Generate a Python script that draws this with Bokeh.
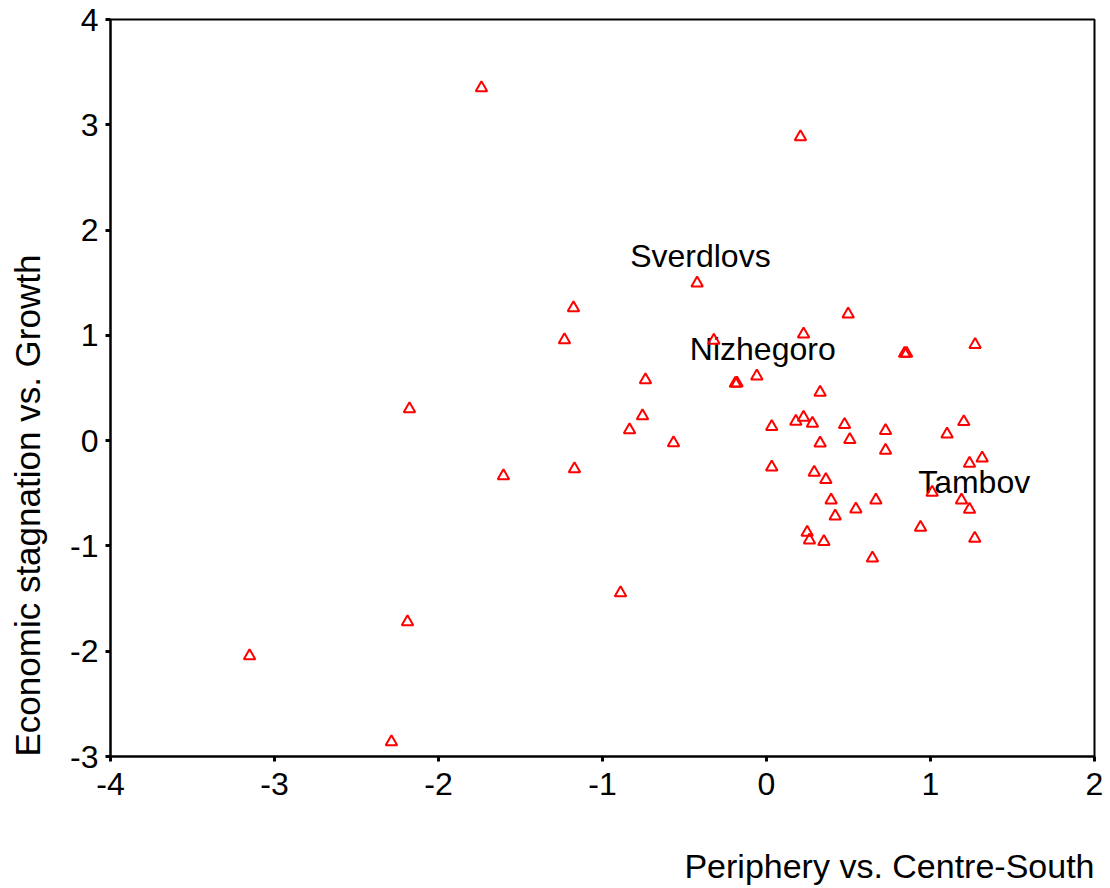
from bokeh.plotting import figure
from bokeh.models import Title, Range1d, FixedTicker, ColumnDataSource
from bokeh.embed import file_html
from bokeh.resources import INLINE
from bokeh.core.properties import value

# Periphery vs. Centre-South (x) and Economic stagnation vs. Growth (y)
x_vals = [-1.738, 0.207, -0.423, -1.177, -1.232, -0.321, 0.226, 0.498, 0.842, 0.854,
          1.272, -0.738, -0.190, -0.180, -0.059, 0.327, -2.177, -0.756, -0.835, -0.567,
          -1.171, -1.604, 0.032, 0.179, 0.226, 0.280, 0.476, 0.726, 0.508, 0.327,
          0.726, 0.032, 0.291, 0.362, 0.394, 0.667, 0.545, 0.419, 0.248, 0.262,
          0.350, 0.646, 1.203, 1.101, 1.238, 1.315, 1.010, 1.189, 1.238, 0.939,
          1.270, -0.890, -2.189, -3.152, -2.287]
y_vals = [3.350, 2.884, 1.496, 1.260, 0.956, 0.952, 1.011, 1.201, 0.828, 0.828,
          0.911, 0.576, 0.543, 0.545, 0.613, 0.458, 0.301, 0.235, 0.102, -0.022,
          -0.269, -0.335, 0.132, 0.182, 0.220, 0.163, 0.151, 0.094, 0.009, -0.024,
          -0.093, -0.252, -0.302, -0.371, -0.565, -0.565, -0.650, -0.717, -0.872, -0.945,
          -0.960, -1.116, 0.179, 0.062, -0.217, -0.166, -0.492, -0.565, -0.653, -0.824,
          -0.929, -1.446, -1.722, -2.045, -2.861]

label_names = ["Sverdlovs", "Nizhegoro", "Tambov"]
label_index = [2, 5, 46]
label_dx = [-67, -24, -14]
label_dy = [-27, 9, -10]

x_ticks = [-4, -3, -2, -1, 0, 1, 2]
y_ticks = [-3, -2, -1, 0, 1, 2, 3, 4]

x_title = "Periphery vs. Centre-South"
y_title = "Economic stagnation vs. Growth"

FONT = "Liberation Sans"

p = figure(frame_width=984, frame_height=737, output_backend="svg", toolbar_location=None,
           x_range=Range1d(-4, 2), y_range=Range1d(-3, 4),
           min_border_left=110, min_border_right=14, min_border_top=19,
           min_border_bottom=100, background_fill_color="white",
           border_fill_color="white")
# the left title panel is wider than the reference margin; pull the canvas left
p.styles = {"margin-left": "-16px"}

p.outline_line_color = "black"
p.outline_line_width = 2
p.grid.visible = False

for ax in (p.xaxis[0], p.yaxis[0]):
    ax.axis_line_color = "black"
    ax.axis_line_width = 2
    ax.major_tick_in = 0
    ax.major_tick_out = 5
    ax.major_tick_line_width = 3
    ax.major_tick_line_color = "black"
    ax.minor_tick_line_color = None
    ax.major_label_text_font = FONT
    ax.major_label_text_font_size = "32px"
    ax.major_label_text_color = "black"

p.xaxis[0].ticker = FixedTicker(ticks=x_ticks)
p.yaxis[0].ticker = FixedTicker(ticks=y_ticks)
p.xaxis[0].major_label_overrides = {t: str(t) for t in x_ticks}
p.yaxis[0].major_label_overrides = {t: str(t) for t in y_ticks}
p.xaxis[0].major_label_standoff = 11
p.yaxis[0].major_label_standoff = 7

p.add_layout(Title(text=x_title, align="right", text_font=FONT,
                   text_font_size="34px", text_font_style="normal", text_color="black",
                   standoff=95), "below")
p.add_layout(Title(text=y_title, align="left", text_font=FONT,
                   text_font_size="35px", text_font_style="normal", text_color="black",
                   standoff=42), "left")

lab_src = ColumnDataSource(dict(
    x=[x_vals[i] for i in label_index],
    y=[y_vals[i] for i in label_index],
    text=label_names,
    dx=label_dx,
    dy=label_dy,
))
p.text(x="x", y="y", text="text", x_offset="dx", y_offset="dy", source=lab_src,
       text_font=value(FONT), text_font_size="32px", text_color="black",
       text_align="left", text_baseline="middle")

p.scatter(x=x_vals, y=y_vals, marker="triangle", size=11.5, fill_color=None,
          line_color="red", line_width=2)

open("out.html", "w").write(file_html(p, INLINE))
